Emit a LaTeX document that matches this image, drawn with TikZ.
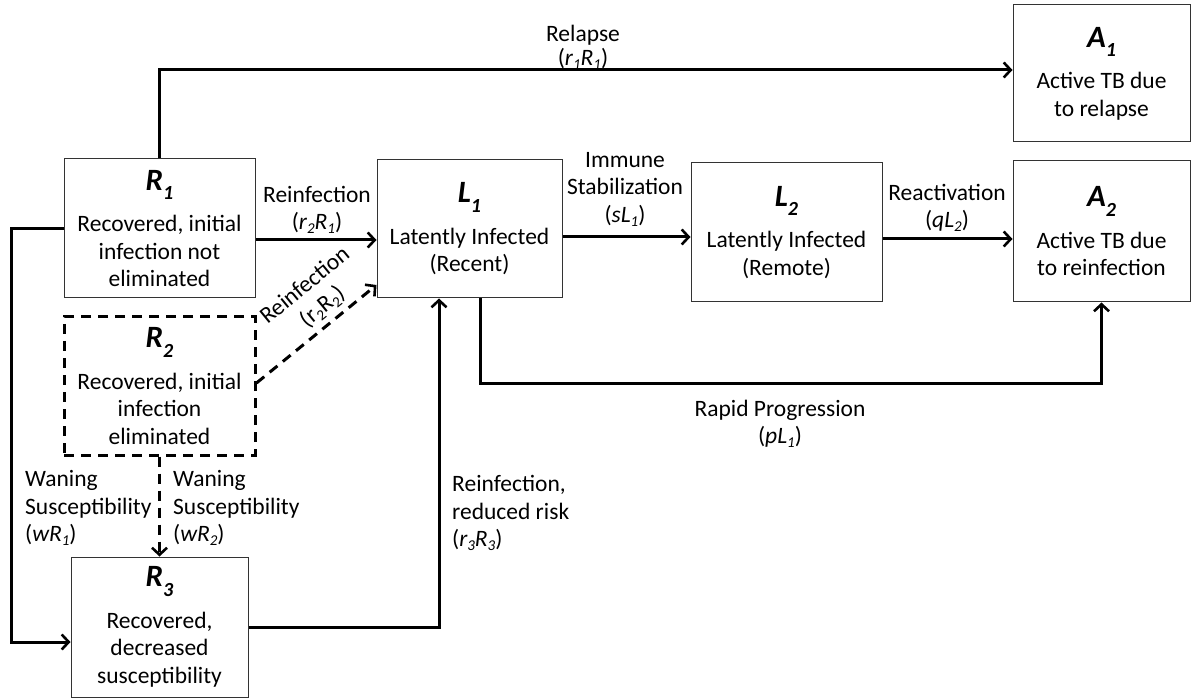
\documentclass[tikz,border=0pt]{standalone}
\usepackage{fontspec}
\setmainfont{Carlito}
\usetikzlibrary{arrows.meta,calc}

% compartment title with a lowered index, and a small lowered index for rates
\newcommand{\ttl}[2]{{\fontsize{31}{33}\selectfont\bfseries\itshape #1\raisebox{-0.3em}{\fontsize{20}{20}\selectfont #2}}}
\newcommand{\lo}[1]{\raisebox{-0.35ex}{\fontsize{15}{15}\selectfont #1}}

\begin{document}
\begin{tikzpicture}[x=1pt,y=-1pt,
    state/.style={draw=black!80, line width=1pt, align=center, inner sep=0pt,
      minimum width=191pt, minimum height=139pt, font=\fontsize{23.5}{27.5}\selectfont},
    lbl/.style={align=center, inner sep=0pt, font=\fontsize{23.5}{27.5}\selectfont},
    flow/.style={line width=3pt, -{Straight Barb[length=7pt,width=15pt,line width=2.6pt]}},
    dashflow/.style={flow, dash pattern=on 10pt off 7pt}]
    \useasboundingbox (0,0) rectangle (1191,700);

    % Recovered compartments
    \node[state] (R1) at (159.5,228.5) {\ttl{R}{1}\\[14pt]Recovered, initial\\infection not\\eliminated};
    \node[state, draw=black, line width=3pt, dash pattern=on 10pt off 7pt, minimum height=138pt]
      (R2) at (159.5,386) {\ttl{R}{2}\\[14pt]Recovered, initial\\infection\\eliminated};
    \node[state, minimum width=177pt, minimum height=140pt] (R3) at (159.5,627)
      {\ttl{R}{3}\\[14pt]Recovered,\\decreased\\susceptibility};

    % Latent compartments
    \node[state, minimum width=185pt, minimum height=138pt] (L1) at (469.5,229)
      {\ttl{L}{1}\\[14pt]Latently Infected\\(Recent)};
    \node[state] (L2) at (786.5,232.5) {\ttl{L}{2}\\[14pt]Latently Infected\\(Remote)};

    % Active TB
    \node[state, minimum width=177pt, minimum height=137pt] (A1) at (1101.5,73.5)
      {\ttl{A}{1}\\[14pt]Active TB due\\to relapse};
    \node[state, minimum width=177pt, minimum height=141pt] (A2) at (1101.5,231.5)
      {\ttl{A}{2}\\[14pt]Active TB due\\to reinfection};

    % Flows
    \draw[flow] (R1.north) |- (A1.west |- 0,70);
    \draw[flow] (R1.east |- 0,240) -- (L1.west |- 0,240);
    \draw[dashflow] (R2.east |- 0,383) -- node[lbl, sloped, above=5pt, pos=0.64] (reinf2)
      {Reinfection\\(r\lo{2}R\lo{2})} (L1.west |- 0,285);
    \draw[dashflow] (R2.south) -- (R3.north);
    \draw[flow] (R1.west) -- ++(-52,0) |- (R3.west |- 0,642);
    \draw[flow] (R3.east) -| (L1.south -| 439,0);
    \draw[flow] (L1.south -| 480,0) -- ++(0,85) -| (A2.south);
    \draw[flow] (L1.east |- 0,237) -- (L2.west |- 0,237);
    \draw[flow] (L2.east |- 0,239) -- (A2.west |- 0,239);

    % Rates
    \node[lbl, anchor=south] (relapse) at (583,70) {Relapse\\[-3pt](\textit{r\lo{1}R\lo{1}})};
    \node[lbl] (reinf1) at (317,210) {Reinfection\\(\textit{r\lo{2}R\lo{1}})};
    \node[lbl] (stab) at (625,189) {Immune\\Stabilization\\(\textit{sL\lo{1}})};
    \node[lbl] (react) at (947,208) {Reactivation\\(\textit{qL\lo{2}})};
    \node[lbl] (rapid) at (780,424) {Rapid Progression\\(\textit{pL\lo{1}})};
    \node[lbl, anchor=west, align=left] (wane1) at (25,508) {Waning\\Susceptibility\\(\textit{wR\lo{1}})};
    \node[lbl, anchor=west, align=left] (wane2) at (173,508) {Waning\\Susceptibility\\(\textit{wR\lo{2}})};
    \node[lbl, anchor=west, align=left] (reinf3) at (452,513) {Reinfection,\\reduced risk\\(\textit{r\lo{3}R\lo{3}})};
\end{tikzpicture}
\end{document}
